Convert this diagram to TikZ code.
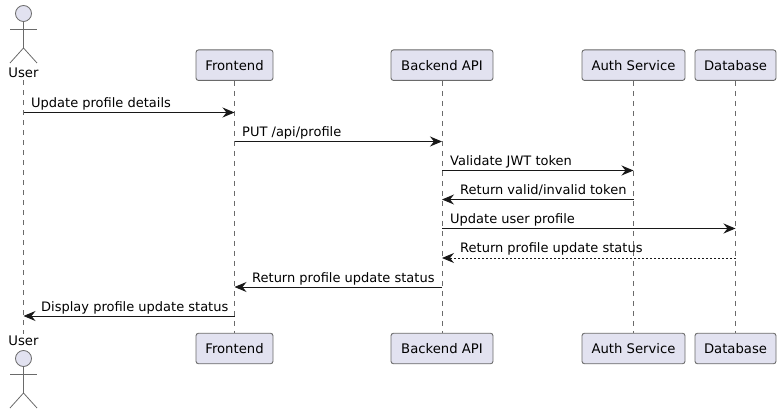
\documentclass[tikz,border=0pt]{standalone}
\usepackage{fontspec}
\setmainfont{DejaVu Sans}
\usetikzlibrary{arrows.meta}
\definecolor{partfill}{HTML}{E2E2F0}
\definecolor{partline}{HTML}{6A6A6A}
\definecolor{ink}{HTML}{181818}
\tikzset{
  x=1pt,y=-1pt,
  partbox/.style={draw=partline,fill=partfill,rounded corners=2.5pt,line width=0.9pt,minimum height=30.5pt,inner sep=0pt,font=\fontsize{13.2}{15}\selectfont,text=black},
  actorlabel/.style={inner sep=0pt,font=\fontsize{13.2}{15}\selectfont,text=black},
  actorline/.style={draw=partline,line width=0.8pt},
  lifeline/.style={draw=partline,line width=0.7pt,dash pattern=on 5pt off 5pt},
  msg/.style={draw=ink,line width=1pt,-{Stealth[length=12pt,width=10pt,inset=4pt]}},
  reply/.style={msg,dash pattern=on 2pt off 2pt},
  msglabel/.style={anchor=base west,inner sep=0pt,font=\fontsize{13}{15}\selectfont,text=black}
}
\newcommand{\stickman}[2]{%
  \draw[actorline,fill=partfill] (#1,#2) circle (8);
  \draw[actorline] (#1,#2+8) -- (#1,#2+34.5);
  \draw[actorline] (#1-13.5,#2+15.5) -- (#1+13.5,#2+15.5);
  \draw[actorline] (#1-13.5,#2+49.5) -- (#1,#2+34.5) -- (#1+13.5,#2+49.5);
}
\begin{document}
\begin{tikzpicture}
\useasboundingbox (0,0) rectangle (781,414);
% participants
\node[actorlabel] (userT) at (23.5,73) {User};
\node[actorlabel] (userB) at (23.5,341) {User};
\stickman{23.5}{13.5}
\stickman{23.5}{358.5}
\node[partbox,minimum width=77pt] (frontT) at (234.5,65.2) {Frontend};
\node[partbox,minimum width=77pt] (frontB) at (234.5,348.5) {Frontend};
\node[partbox,minimum width=102pt] (backT) at (442,65.2) {Backend API};
\node[partbox,minimum width=102pt] (backB) at (442,348.5) {Backend API};
\node[partbox,minimum width=103pt] (authT) at (633.5,65.2) {Auth Service};
\node[partbox,minimum width=103pt] (authB) at (633.5,348.5) {Auth Service};
\node[partbox,minimum width=81pt] (dbT) at (735.5,65.2) {Database};
\node[partbox,minimum width=81pt] (dbB) at (735.5,348.5) {Database};
% lifelines
\draw[lifeline,shorten >=2pt,shorten <=2pt] (userT.south) -- (userB.north);
\draw[lifeline] (frontT.south) -- (frontB.north);
\draw[lifeline] (backT.south) -- (backB.north);
\draw[lifeline] (authT.south) -- (authB.north);
\draw[lifeline] (dbT.south) -- (dbB.north);
% message rows
\coordinate (r1) at (0,112.5);
\coordinate (r2) at (0,141.5);
\coordinate (r3) at (0,170.5);
\coordinate (r4) at (0,199.5);
\coordinate (r5) at (0,228.5);
\coordinate (r6) at (0,258);
\coordinate (r7) at (0,287);
\coordinate (r8) at (0,316);
% messages
\draw[msg] (userT |- r1) -- (frontT |- r1);
\draw[msg] (frontT |- r2) -- (backT |- r2);
\draw[msg] (backT |- r3) -- (authT |- r3);
\draw[msg] (authT |- r4) -- (backT |- r4);
\draw[msg] (backT |- r5) -- (dbT |- r5);
\draw[reply] (dbT |- r6) -- (backT |- r6);
\draw[msg] (backT |- r7) -- (frontT |- r7);
\draw[msg] (frontT |- r8) -- (userT |- r8);
% labels
\node[msglabel] (m1) at (31,107.5) {Update profile details};
\node[msglabel] (m2) at (242,136.5) {PUT /api/profile};
\node[msglabel] (m3) at (450,165.5) {Validate JWT token};
\node[msglabel] (m4) at (460,194.5) {Return valid/invalid token};
\node[msglabel] (m5) at (450,223.5) {Update user profile};
\node[msglabel] (m6) at (460,252.8) {Return profile update status};
\node[msglabel] (m7) at (252,282) {Return profile update status};
\node[msglabel] (m8) at (41,311) {Display profile update status};
\end{tikzpicture}
\end{document}
